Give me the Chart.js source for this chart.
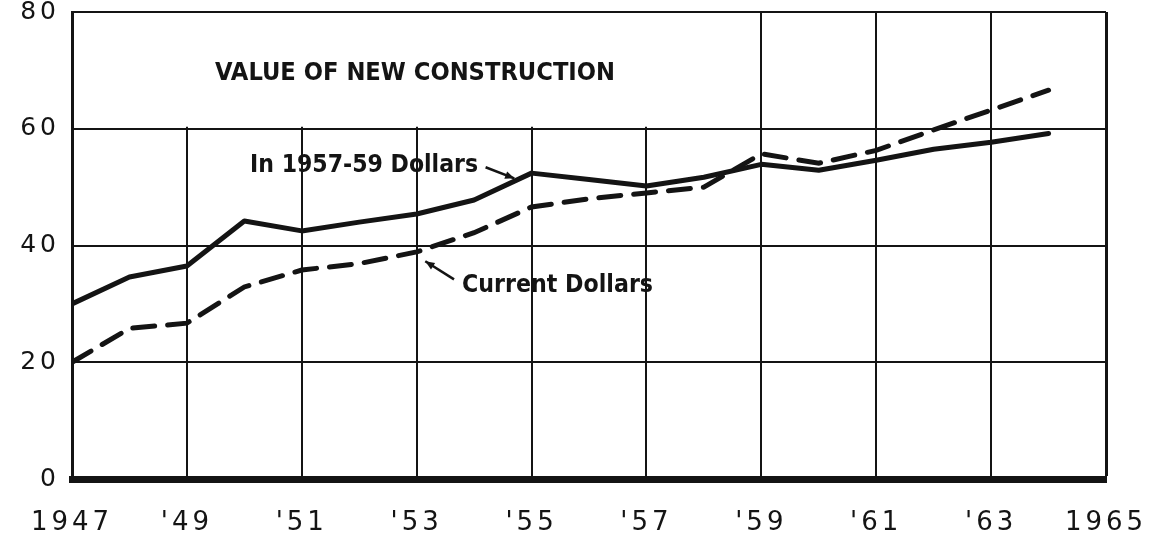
<!DOCTYPE html>
<html>
<head>
<meta charset="utf-8">
<script src="https://cdn.jsdelivr.net/npm/chart.js@4.4.1/dist/chart.umd.min.js"></script>
<style>
  html, body { margin: 0; padding: 0; background: #fff; }
  #wrap { width: 1165px; height: 535px; }
</style>
</head>
<body>
<div id="wrap"><canvas id="c" width="1165" height="535"></canvas></div>
<script>
// values, billions of dollars
const years = [1947, 1948, 1949, 1950, 1951, 1952, 1953, 1954, 1955, 1956, 1957, 1958, 1959, 1960, 1961, 1962, 1963, 1964];
const constantDollars = [30.0, 34.6, 36.5, 44.2, 42.5, 44.0, 45.4, 47.8, 52.4, 51.3, 50.2, 51.7, 53.9, 52.9, 54.6, 56.5, 57.7, 59.2];
const currentDollars = [20.0, 25.8, 26.7, 32.9, 35.8, 36.9, 38.9, 42.2, 46.6, 48.0, 49.0, 50.0, 55.7, 54.1, 56.3, 59.8, 63.2, 66.6];
const xTicks = [1947, 1949, 1951, 1953, 1955, 1957, 1959, 1961, 1963, 1965];
const yTicks = [0, 20, 40, 60, 80];

const ink = '#141414';

// text + arrow labels, in data units
const notes = [
  { text: 'VALUE OF NEW CONSTRUCTION', x: 1949.49, y: 68.3, w: 400 },
  { text: 'In 1957-59 Dollars', x: 1950.1, y: 52.6, w: 228 },
  { text: 'Current Dollars', x: 1953.79, y: 32.0, w: 191 }
];
const arrows = [
  { from: [1954.2, 53.4], to: [1954.7, 51.5] },
  { from: [1953.65, 34.2], to: [1953.15, 37.3] }
];

const pts = (vals) => years.map((yr, i) => ({ x: yr, y: vals[i] }));

const decor = {
  id: 'decor',
  beforeDraw(chart) {
    chart.ctx.letterSpacing = '4px';
  },
  beforeDatasetsDraw(chart) {
    // the old chart leaves the title box free of the vertical rules
    const { ctx, scales: { x, y } } = chart;
    ctx.save();
    ctx.fillStyle = '#fff';
    ctx.fillRect(x.getPixelForValue(1947) + 2, y.getPixelForValue(80) + 1,
      x.getPixelForValue(1958.6) - x.getPixelForValue(1947) - 2,
      y.getPixelForValue(60) - y.getPixelForValue(80) - 3);
    ctx.restore();
  },
  afterDraw(chart) {
    const { ctx, scales: { x, y } } = chart;
    ctx.save();
    ctx.letterSpacing = '0px';
    ctx.fillStyle = ink;
    ctx.strokeStyle = ink;
    ctx.font = 'bold 24px "DejaVu Sans Condensed", "DejaVu Sans"';
    ctx.textBaseline = 'alphabetic';
    notes.forEach(n => {
      const px = x.getPixelForValue(n.x), py = y.getPixelForValue(n.y);
      const m = ctx.measureText(n.text).width;
      ctx.save();
      ctx.translate(px, py);
      ctx.scale(n.w / m, 1);
      ctx.fillText(n.text, 0, 0);
      ctx.restore();
    });
    ctx.lineWidth = 2.5;
    arrows.forEach(a => {
      const x1 = x.getPixelForValue(a.from[0]), y1 = y.getPixelForValue(a.from[1]);
      const x2 = x.getPixelForValue(a.to[0]), y2 = y.getPixelForValue(a.to[1]);
      const ang = Math.atan2(y2 - y1, x2 - x1);
      ctx.beginPath();
      ctx.moveTo(x1, y1);
      ctx.lineTo(x2, y2);
      ctx.stroke();
      ctx.beginPath();
      ctx.moveTo(x2, y2);
      ctx.lineTo(x2 - 10 * Math.cos(ang - 0.4), y2 - 10 * Math.sin(ang - 0.4));
      ctx.lineTo(x2 - 10 * Math.cos(ang + 0.4), y2 - 10 * Math.sin(ang + 0.4));
      ctx.closePath();
      ctx.fill();
    });
    ctx.restore();
  }
};

new Chart(document.getElementById('c'), {
  type: 'line',
  data: {
    datasets: [
      {
        label: 'In 1957-59 Dollars',
        data: pts(constantDollars),
        borderColor: ink,
        borderWidth: 5,
        pointRadius: 0,
        tension: 0,
        borderJoinStyle: 'round',
        borderCapStyle: 'round'
      },
      {
        label: 'Current Dollars',
        data: pts(currentDollars),
        borderColor: ink,
        borderWidth: 5,
        borderDash: [22, 13],
        pointRadius: 0,
        tension: 0,
        borderCapStyle: 'round'
      }
    ]
  },
  options: {
    responsive: false,
    animation: false,
    layout: { padding: { top: 12, right: 59, left: 0, bottom: 0 } },
    plugins: { legend: { display: false }, tooltip: { enabled: false } },
    scales: {
      x: {
        type: 'linear',
        min: 1947,
        max: 1965,
        afterBuildTicks: (s) => { s.ticks = xTicks.map(v => ({ value: v })); },
        afterFit: (s) => { s.height = 56; s.paddingLeft = 0; s.paddingRight = 0; },
        ticks: {
          color: ink,
          font: { family: '"DejaVu Sans"', size: 26 },
          padding: 29,
          maxRotation: 0,
          autoSkip: false,
          callback: (v) => (v === 1947 || v === 1965) ? String(v) : "'" + String(v).slice(2)
        },
        grid: {
          color: ink,
          lineWidth: (c) => c.tick && c.tick.value === 1965 ? 3 : 2,
          drawTicks: false
        },
        border: { display: true, color: ink, width: 7 }
      },
      y: {
        min: 0,
        max: 80,
        afterBuildTicks: (s) => { s.ticks = yTicks.map(v => ({ value: v })); },
        afterFit: (s) => { s.width = 72; s.paddingTop = 0; s.paddingBottom = 0; },
        ticks: {
          color: ink,
          font: { family: '"DejaVu Sans"', size: 25 },
          padding: 12
        },
        grid: {
          color: ink,
          lineWidth: (c) => c.tick && c.tick.value === 0 ? 7 : 2,
          drawTicks: false
        },
        border: { display: true, color: ink, width: 3 }
      }
    }
  },
  plugins: [decor]
});
</script>
</body>
</html>
